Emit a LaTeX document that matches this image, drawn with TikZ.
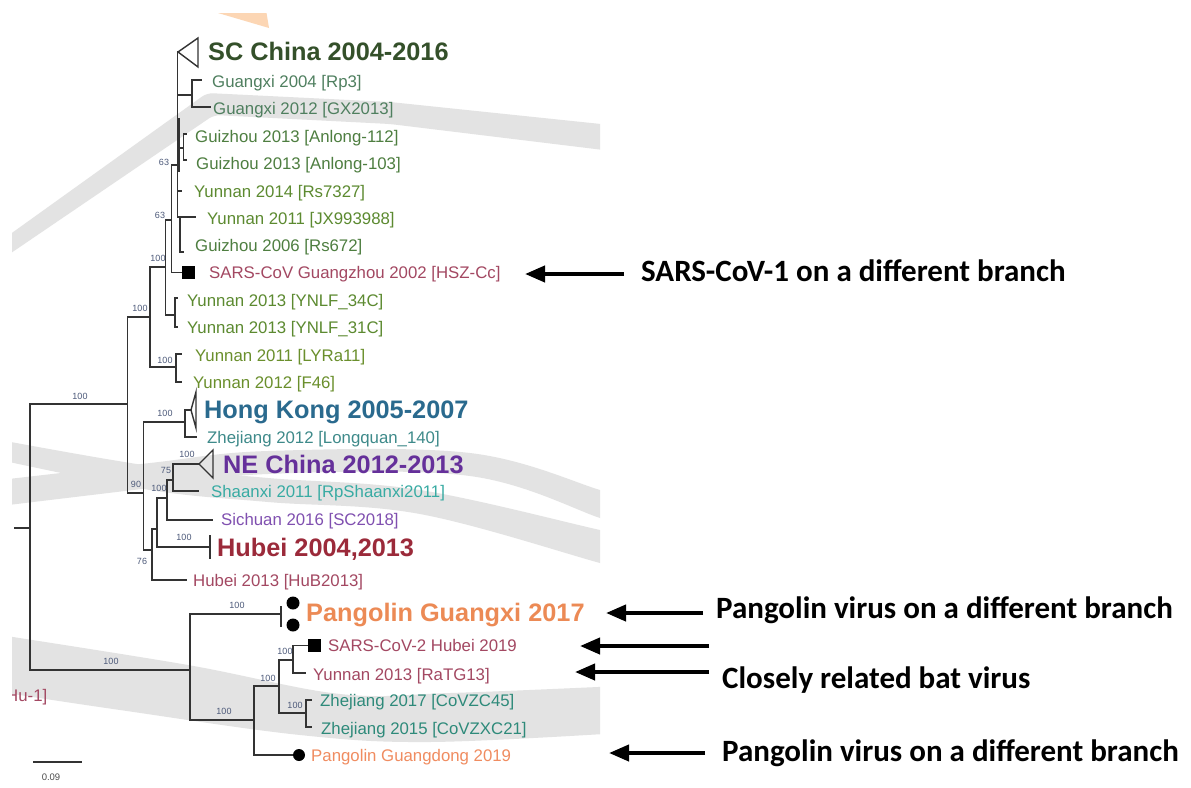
\documentclass[tikz,border=0pt]{standalone}
\usepackage{fontspec}
\setmainfont{Liberation Sans}
\newfontfamily\annfont{Carlito}
\usetikzlibrary{arrows.meta}
\definecolor{bandgray}{HTML}{E3E3E3}
\definecolor{peach}{HTML}{FCD6B4}
\definecolor{brc}{HTML}{333333}
\definecolor{nlab}{HTML}{4D5A7A}
\definecolor{cSC}{HTML}{34502A}
\definecolor{cGx}{HTML}{4F7F5F}
\definecolor{cGz}{HTML}{4E7E40}
\definecolor{cYn}{HTML}{5C8A30}
\definecolor{cOl}{HTML}{6A8F2C}
\definecolor{cRd}{HTML}{A34862}
\definecolor{cHK}{HTML}{2A6A8E}
\definecolor{cZj}{HTML}{3E8A8A}
\definecolor{cNE}{HTML}{65309A}
\definecolor{cSx}{HTML}{38ABA3}
\definecolor{cSc}{HTML}{8050B0}
\definecolor{cHb}{HTML}{9B2A3A}
\definecolor{cPg}{HTML}{EC8A55}
\definecolor{cPd}{HTML}{F08C60}
\definecolor{cZh}{HTML}{2E8A7A}
\begin{document}
\begin{tikzpicture}[x=1pt,y=-1pt,
  br/.style={draw=brc, line width=1.4pt},
  tipl/.style={anchor=base west, inner sep=0pt, font=\fontsize{16.8}{18}\selectfont},
  big/.style={anchor=base west, inner sep=0pt, font=\fontsize{25.3}{28}\selectfont\bfseries},
  nl/.style={inner sep=0pt, font=\fontsize{9}{10}\selectfont, text=nlab},
  ann/.style={anchor=base west, inner sep=0pt, font=\annfont\bfseries\fontsize{31}{34}\selectfont},
  arr/.style={line width=4pt, -{Triangle[length=20pt,width=16pt]}},
  band/.style={fill=bandgray},
  blk/.style={fill=black, inner sep=0pt}]
\useasboundingbox (0,0) rectangle (1191,787);
\fill[white] (0,0) rectangle (1191,787);
% background bands
\begin{scope}
\clip (12,13) rectangle (600,787);
\fill[band, rounded corners=6pt] (0,241.5) -- (207,93) -- (390,102) -- (620,126)
  -- (620,152) -- (390,124) -- (214,115) -- (0,260.5) -- cycle;
\fill[band] plot[smooth, tension=0.6] coordinates {(0,480) (150,463) (268,451) (470,453) (600,490) (620,497)}
  -- plot[smooth, tension=0.6] coordinates {(620,525) (600,518) (470,476) (268,474) (150,488) (0,506)} -- cycle;
\fill[band] plot[smooth, tension=0.6] coordinates {(0,440) (150,466) (268,478) (420,490) (600,530) (620,534)}
  -- plot[smooth, tension=0.6] coordinates {(620,568) (600,563) (420,514) (268,502) (150,490) (0,460)} -- cycle;
\fill[band] plot[smooth, tension=0.6] coordinates {(0,635) (188,665) (340,694) (450,693) (620,686)}
  -- plot[smooth, tension=0.6] coordinates {(620,733) (430,742) (300,735) (120,710) (0,692)} -- cycle;
\fill[peach] (218,13) -- (266.5,13) -- (269,28) -- cycle;
\end{scope}
% tree coordinates
\coordinate (r0) at (14,528);
\coordinate (rt) at (30,528);
\coordinate (nq) at (127.5,404);
\coordinate (nw) at (190,670);
\coordinate (np) at (150,317);
\coordinate (nr) at (143.5,493);
\coordinate (na) at (165.5,267);
\coordinate (nly) at (176,367);
\coordinate (nb) at (171.5,220);
\coordinate (nyn) at (175,315);
\coordinate (nc) at (177.5,165);
\coordinate (sq1) at (182,272.5);
\coordinate (sct) at (178,52);
\coordinate (ngx) at (192,95);
\coordinate (nan) at (183.5,148);
\coordinate (t14) at (181.5,191);
\coordinate (tjx) at (196,217);
\coordinate (nc3) at (180,217);
\coordinate (t672) at (183.5,252);
\coordinate (tgx1) at (202,80);
\coordinate (tgx2) at (211,107);
\coordinate (tan1) at (187,134);
\coordinate (tan2) at (187,160);
\coordinate (tyn1) at (178,298);
\coordinate (tyn2) at (178,327);
\coordinate (tly1) at (182,354);
\coordinate (tly2) at (182,382);
\coordinate (c2a) at (179,118);
\coordinate (c2b) at (179,172);
\coordinate (nhk) at (185,422);
\coordinate (ns) at (152,550);
\coordinate (hkt) at (191,410);
\coordinate (tzj) at (197,437);
\coordinate (nt) at (157,529);
\coordinate (thub) at (187,580);
\coordinate (nu) at (167,498);
\coordinate (hbb) at (210,547);
\coordinate (nv) at (173,480);
\coordinate (tsc) at (213,520);
\coordinate (net) at (199,464);
\coordinate (tsx) at (199,491);
\coordinate (pgb) at (281,614);
\coordinate (nx) at (254,720);
\coordinate (ny) at (279,686);
\coordinate (pgd) at (293,755);
\coordinate (nz) at (293,660);
\coordinate (nzh) at (306,713);
\coordinate (sq2) at (308,645.5);
\coordinate (trg) at (306,673);
\coordinate (tzh1) at (312,700);
\coordinate (tzh2) at (312,727);
\coordinate (hb1) at (210,535);
\coordinate (hb2) at (210,559);
\coordinate (pb1) at (281,606);
\coordinate (pb2) at (281,627);
% branches
\draw[br] (r0) -- (rt);
\draw[br] (rt) |- (nq);
\draw[br] (rt) |- (nw);
\draw[br] (nq) |- (np);
\draw[br] (nq) |- (nr);
\draw[br] (np) |- (na);
\draw[br] (np) |- (nly);
\draw[br] (na) |- (nb);
\draw[br] (na) |- (nyn);
\draw[br] (nb) |- (nc);
\draw[br] (nb) |- (sq1);
\draw[br] (nc) |- (sct);
\draw[br] (nc) |- (ngx);
\draw[br] (nc) |- (nan);
\draw[br] (nc) |- (t14);
\draw[br] (nc) |- (tjx);
\draw[br] (nc3) |- (t672);
\draw[br, line width=2.4pt] (c2a) -- (c2b);
\draw[br] (ngx) |- (tgx1);
\draw[br] (ngx) |- (tgx2);
\draw[br] (nan) |- (tan1);
\draw[br] (nan) |- (tan2);
\draw[br] (nyn) |- (tyn1);
\draw[br] (nyn) |- (tyn2);
\draw[br] (nly) |- (tly1);
\draw[br] (nly) |- (tly2);
\draw[br] (nr) |- (nhk);
\draw[br] (nr) |- (ns);
\draw[br] (nhk) |- (hkt);
\draw[br] (nhk) |- (tzj);
\draw[br] (ns) |- (nt);
\draw[br] (ns) |- (thub);
\draw[br] (nt) |- (nu);
\draw[br] (nt) |- (hbb);
\draw[br] (nu) |- (nv);
\draw[br] (nu) |- (tsc);
\draw[br] (nv) |- (net);
\draw[br] (nv) |- (tsx);
\draw[br] (nw) |- (pgb);
\draw[br] (nw) |- (nx);
\draw[br] (nx) |- (ny);
\draw[br] (nx) |- (pgd);
\draw[br] (ny) |- (nz);
\draw[br] (ny) |- (nzh);
\draw[br] (nz) |- (sq2);
\draw[br] (nz) |- (trg);
\draw[br] (nzh) |- (tzh1);
\draw[br] (nzh) |- (tzh2);
% collapsed clades
\draw[br] (sct) -- ++(20,-14) -- ++(0,29) -- cycle;
\draw[br] (hkt) -- ++(5,-18) -- ++(0,36) -- cycle;
\draw[br] (net) -- ++(14,-14) -- ++(0,28) -- cycle;
\draw[br, line width=2.6pt] (hb1) -- (hb2);
\draw[br, line width=2.6pt] (pb1) -- (pb2);
% markers
\node[blk, minimum size=13pt] (sqm1) at (188.5,272.5) {};
\node[blk, minimum size=13pt] (sqm2) at (314.5,645.5) {};
\node[blk, circle, minimum size=13pt] (dot1) at (293,603) {};
\node[blk, circle, minimum size=13pt] (dot2) at (293,625) {};
\node[blk, circle, minimum size=12pt] (dot3) at (299,755) {};
% node support labels
\node[nl] (s1) at (164,162) {63};
\node[nl] (s2) at (160,215) {63};
\node[nl] (s3) at (158,258) {100};
\node[nl] (s4) at (140,308) {100};
\node[nl] (s5) at (165,360) {100};
\node[nl] (s6) at (80,396) {100};
\node[nl] (s7) at (165,413) {100};
\node[nl] (s8) at (187,454) {100};
\node[nl] (s9) at (166,470) {75};
\node[nl] (s10) at (136,484) {90};
\node[nl] (s11) at (159,488) {100};
\node[nl] (s12) at (184,537) {100};
\node[nl] (s13) at (142,561) {76};
\node[nl] (s14) at (237,605) {100};
\node[nl] (s15) at (111,661) {100};
\node[nl] (s16) at (224,711) {100};
\node[nl] (s17) at (268,678) {100};
\node[nl] (s18) at (285,651) {100};
\node[nl] (s19) at (295,705) {100};
% tip labels
\node[big, text=cSC] (lscc) at (208,60) {SC China 2004-2016};
\node[tipl, text=cGx] (lgx1) at (212,87) {Guangxi 2004 [Rp3]};
\node[tipl, text=cGx] (lgx2) at (213,114.5) {Guangxi 2012 [GX2013]};
\node[tipl, text=cGz] (lan1) at (195,142) {Guizhou 2013 [Anlong-112]};
\node[tipl, text=cGz] (lan2) at (196,169) {Guizhou 2013 [Anlong-103]};
\node[tipl, text=cYn] (l14) at (194,197) {Yunnan 2014 [Rs7327]};
\node[tipl, text=cYn] (ljx) at (207,224) {Yunnan 2011 [JX993988]};
\node[tipl, text=cGz] (l672) at (195,251.5) {Guizhou 2006 [Rs672]};
\node[tipl, text=cRd] (lsars) at (209,278.5) {SARS-CoV Guangzhou 2002 [HSZ-Cc]};
\node[tipl, text=cYn] (lyn1) at (187,306) {Yunnan 2013 [YNLF\_34C]};
\node[tipl, text=cYn] (lyn2) at (187,333.5) {Yunnan 2013 [YNLF\_31C]};
\node[tipl, text=cOl] (lly1) at (195,361) {Yunnan 2011 [LYRa11]};
\node[tipl, text=cOl] (lly2) at (193,388) {Yunnan 2012 [F46]};
\node[big, text=cHK] (lhk) at (204,418) {Hong Kong 2005-2007};
\node[tipl, text=cZj] (lzj) at (207,443.5) {Zhejiang 2012 [Longquan\_140]};
\node[big, text=cNE] (lne) at (223,473) {NE China 2012-2013};
\node[tipl, text=cSx] (lsx) at (211,497.5) {Shaanxi 2011 [RpShaanxi2011]};
\node[tipl, text=cSc] (lsic) at (221,525.5) {Sichuan 2016 [SC2018]};
\node[big, text=cHb] (lhb) at (217,556.5) {Hubei 2004,2013};
\node[tipl, text=cRd] (lhub) at (193,586.5) {Hubei 2013 [HuB2013]};
\node[big, text=cPg] (lpgx) at (306,621.5) {Pangolin Guangxi 2017};
\node[tipl, text=cRd] (lcv2) at (328,651.5) {SARS-CoV-2 Hubei 2019};
\node[tipl, text=cRd] (lrg) at (313,680) {Yunnan 2013 [RaTG13]};
\node[tipl, text=cZh] (lzh1) at (320,706.5) {Zhejiang 2017 [CoVZC45]};
\node[tipl, text=cZh] (lzh2) at (321,734) {Zhejiang 2015 [CoVZXC21]};
\node[tipl, text=cPd] (lpgd) at (311,761) {Pangolin Guangdong 2019};
\begin{scope}
\clip (12,600) rectangle (100,740);
\node[tipl, anchor=base east, text=cRd] (lhu) at (47.5,701) {Hu-1]};
\end{scope}
% scale bar
\coordinate (sb1) at (33,762);
\coordinate (sb2) at (82,762);
\draw[br] (sb1) -- (sb2);
\node[nl, text=black!70, font=\fontsize{9.5}{10}\selectfont] (sbl) at (51,777) {0.09};
% annotations
\coordinate (a1s) at (624,274); \coordinate (a1e) at (525,274);
\coordinate (a2s) at (703,613); \coordinate (a2e) at (606,613);
\coordinate (a3s) at (709,646); \coordinate (a3e) at (580,646);
\coordinate (a4s) at (709,672); \coordinate (a4e) at (575,672);
\coordinate (a5s) at (705,753); \coordinate (a5e) at (609,753);
\draw[arr] (a1s) -- (a1e);
\draw[arr] (a2s) -- (a2e);
\draw[arr] (a3s) -- (a3e);
\draw[arr] (a4s) -- (a4e);
\draw[arr] (a5s) -- (a5e);
\node[ann] (t1) at (641,281) {SARS-CoV-1 on a different branch};
\node[ann] (t2) at (716,618) {Pangolin virus on a different branch};
\node[ann] (t3) at (722,688) {Closely related bat virus};
\node[ann] (t4) at (722,761) {Pangolin virus on a different branch};
\end{tikzpicture}
\end{document}
